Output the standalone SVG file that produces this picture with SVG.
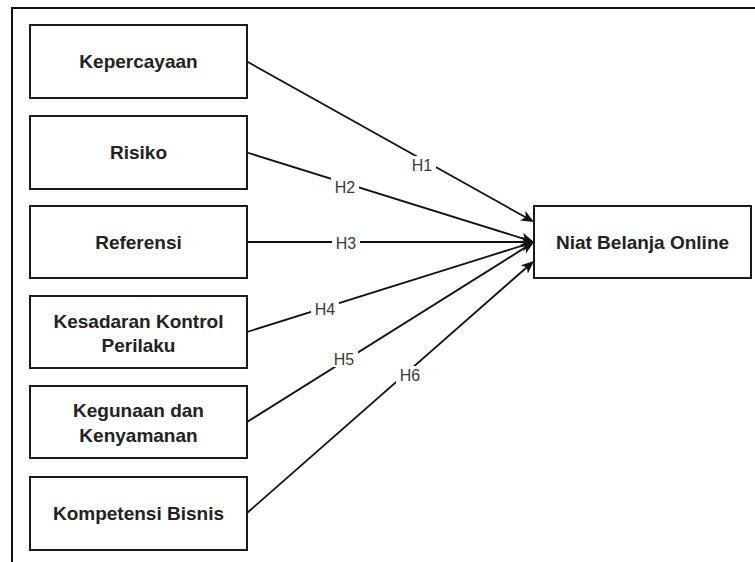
<svg xmlns="http://www.w3.org/2000/svg" width="755" height="562" viewBox="0 0 755 562">
  <style>
    .box { fill: #ffffff; stroke: #1a1a1a; stroke-width: 2; }
    .txt { font-family: "Liberation Sans", Arial, sans-serif; font-size: 19px; font-weight: bold; fill: #222222; text-anchor: middle; }
    .edge { fill: none; stroke: #111111; stroke-width: 1.8; }
    .lblbg { fill: #ffffff; stroke: none; }
    .lbl { font-family: "Liberation Sans", Arial, sans-serif; font-size: 16px; fill: #3a3a3a; text-anchor: middle; }
    .frame { fill: none; stroke: #111111; stroke-width: 2; }
  </style>
  <defs>
    <marker id="arrow" markerUnits="userSpaceOnUse" markerWidth="14" markerHeight="12" refX="10" refY="5.5" orient="auto">
      <path d="M0,0 L13,5.5 L0,11 L3.5,5.5 Z" fill="#111111"/>
    </marker>
  </defs>
  <rect x="0" y="0" width="755" height="562" fill="#ffffff"/>
  <path class="frame" d="M12,562 V8 H755"/>

  <g id="connectors">
    <path class="edge" d="M247,61.5 L531.4,220.5" marker-end="url(#arrow)"/>
    <path class="edge" d="M247,152.5 L531.1,241.1" marker-end="url(#arrow)"/>
    <path class="edge" d="M247,242 L531,242" marker-end="url(#arrow)"/>
    <path class="edge" d="M247,332 L531.1,242.9" marker-end="url(#arrow)"/>
    <path class="edge" d="M247,422 L531.5,243.6" marker-end="url(#arrow)"/>
    <path class="edge" d="M247,513 L531.7,263" marker-end="url(#arrow)"/>
    <g id="labels">
      <rect class="lblbg" x="408" y="156" width="28" height="18"/>
      <text class="lbl" x="422" y="170.7">H1</text>
      <rect class="lblbg" x="331" y="178" width="28" height="18"/>
      <text class="lbl" x="345" y="192.7">H2</text>
      <rect class="lblbg" x="332" y="234" width="28" height="18"/>
      <text class="lbl" x="346" y="249">H3</text>
      <rect class="lblbg" x="311" y="300" width="28" height="18"/>
      <text class="lbl" x="325" y="315.4">H4</text>
      <rect class="lblbg" x="330" y="349" width="28" height="18"/>
      <text class="lbl" x="344" y="364.5">H5</text>
      <rect class="lblbg" x="396" y="366" width="28" height="18"/>
      <text class="lbl" x="410" y="381">H6</text>
    </g>
  </g>

  <g id="kepercayaan">
    <rect class="box" x="30" y="25" width="217" height="73"/>
    <text class="txt" x="138.5" y="68">Kepercayaan</text>
  </g>
  <g id="risiko">
    <rect class="box" x="30" y="116" width="217" height="73"/>
    <text class="txt" x="138.5" y="159">Risiko</text>
  </g>
  <g id="referensi">
    <rect class="box" x="30" y="206" width="217" height="72"/>
    <text class="txt" x="138.5" y="248.5">Referensi</text>
  </g>
  <g id="kesadaran">
    <rect class="box" x="30" y="296" width="217" height="72"/>
    <text class="txt" x="138.5" y="327.5">Kesadaran Kontrol</text>
    <text class="txt" x="138.5" y="352">Perilaku</text>
  </g>
  <g id="kegunaan">
    <rect class="box" x="30" y="386" width="217" height="72"/>
    <text class="txt" x="138.5" y="417">Kegunaan dan</text>
    <text class="txt" x="138.5" y="441.5">Kenyamanan</text>
  </g>
  <g id="kompetensi">
    <rect class="box" x="30" y="477" width="217" height="73"/>
    <text class="txt" x="138.5" y="519.5">Kompetensi Bisnis</text>
  </g>
  <g id="niat">
    <rect class="box" x="534" y="206" width="217" height="72"/>
    <text class="txt" x="642.5" y="248.5">Niat Belanja Online</text>
  </g>
</svg>
